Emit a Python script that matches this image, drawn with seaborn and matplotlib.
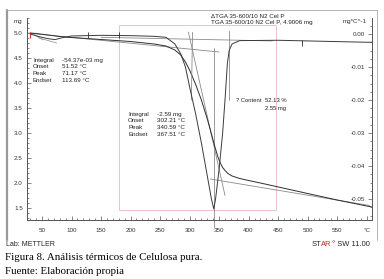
import numpy as np
import pandas as pd
import matplotlib
matplotlib.use("Agg")
import matplotlib.pyplot as plt
import seaborn as sns
from matplotlib.patches import Rectangle
from matplotlib.lines import Line2D

# ---- data ----
temp_tga = [30, 40, 60, 80, 100, 150, 200, 240, 260, 275, 285, 293, 300, 310, 320, 330,
            337, 343, 348, 352, 356, 360, 365, 372, 385, 400, 420, 500, 550, 600, 609]
mass_tga = [5.00, 4.99, 4.96, 4.93, 4.91, 4.87, 4.83, 4.78, 4.74, 4.66, 4.56, 4.42, 4.26,
            3.98, 3.66, 3.28, 2.98, 2.72, 2.52, 2.40, 2.31, 2.25, 2.19, 2.14, 2.09, 2.05,
            2.00, 1.79, 1.66, 1.54, 1.52]

temp_dtg = [30, 45, 60, 72, 85, 100, 150, 200, 240, 260, 275, 285, 293, 300, 310, 320, 330,
            337, 341, 344, 350, 356, 360, 364, 367, 372, 385, 450, 500, 550, 600, 609]
rate_dtg = [0.0, -0.0008, -0.0014, -0.0017, -0.0011, -0.0006, -0.0004, -0.0005, -0.0007,
            -0.0010, -0.0030, -0.0060, -0.0100, -0.0160, -0.0240, -0.0330, -0.0430,
            -0.0500, -0.0530, -0.0500, -0.0410, -0.0300, -0.0200, -0.0090, -0.0050,
            -0.0030, -0.0020, -0.0019, -0.0021, -0.0023, -0.0025, -0.0025]

x_ticks = [50, 100, 150, 200, 250, 300, 350, 400, 450, 500, 550, 600]
x_labels = ["50", "100", "150", "200", "250", "300", "350", "400", "450", "500", "550", "°C"]
mass_ticks = [1.5, 2.0, 2.5, 3.0, 3.5, 4.0, 4.5, 5.0]
rate_ticks = [0.00, -0.01, -0.02, -0.03, -0.04, -0.05]

block1 = [("Integral", "-54.37e-03 mg"), ("Onset", "51.52 °C"),
          ("Peak", "71.17 °C"), ("Endset", "113.69 °C")]
block2 = [("Integral", "-2.59 mg"), ("Onset", "302.21 °C"),
          ("Peak", "340.59 °C"), ("Endset", "367.51 °C")]

sns.set_style("ticks")
plt.rcParams['font.family'] = ['Liberation Sans', 'DejaVu Sans']

W, H = 384, 279
fig = plt.figure(figsize=(W / 100, H / 100), dpi=100)
ax = fig.add_axes([27 / W, 1 - 220 / H, (372 - 27) / W, (220 - 18) / H])
ax2 = ax.twinx()

tga = pd.DataFrame({"T": temp_tga, "m": mass_tga})
dtg = pd.DataFrame({"T": temp_dtg, "r": rate_dtg})

grey = "#8a8a8a"
ink = "#2e2e2e"

# tangent / evaluation lines
ax.plot([25, 350], [5.00, 4.62], color=grey, lw=0.6)
ax.plot([335, 605], [2.08, 1.55], color=grey, lw=0.6)
ax.plot([298, 360], [5.02, 1.75], color=grey, lw=0.6)
ax.plot([341, 341], [4.70, 1.12], color=grey, lw=0.6, clip_on=False)
ax.plot([36, 52], [4.97, 4.86], color=grey, lw=0.5)
ax.plot([45, 75], [4.90, 4.80], color=grey, lw=0.5)
ax2.plot([150, 440], [-0.0010, -0.0021], color=grey, lw=0.6)
ax2.plot([367, 367], [0.0010, -0.0200], color=grey, lw=0.6)
ax2.plot([305, 303], [0.0005, -0.0200], color=grey, lw=0.6)

sns.lineplot(data=tga, x="T", y="m", ax=ax, color=ink, lw=0.7, sort=False)
sns.lineplot(data=dtg, x="T", y="r", ax=ax2, color="#3a3a3a", lw=0.7, sort=False)

# evaluation markers
ax2.plot([128, 180.5], [-0.0004, -0.0004], ls="none", marker="|", ms=4, color=ink, mew=0.6)
ax2.plot([490], [-0.0026], ls="none", marker="|", ms=4, color=ink, mew=0.6)
ax.plot([30], [4.96], ls="none", marker="|", ms=5, color="#e03030", mew=0.8)

# pink evaluation window
ax.add_patch(Rectangle((180.5, 1.46), 446 - 180.5, 5.16 - 1.46, fill=False,
                       edgecolor="#e6b8cc", lw=0.6))

ax.set_xlim(24.6, 609)
ax.set_ylim(1.26, 5.30)
ax2.set_ylim(-0.05636, 0.00485)

ax.set_xticks(x_ticks)
ax.set_xticklabels(x_labels)
ax.set_xticks(np.arange(30, 610, 10), minor=True)
ax.set_yticks(mass_ticks)
ax.set_yticklabels([f"{v:.1f}" for v in mass_ticks])
ax.set_yticks(np.arange(1.3, 5.31, 0.1), minor=True)
ax2.set_yticks(rate_ticks)
ax2.set_yticklabels([f"{v:.2f}" for v in rate_ticks])
ax2.set_yticks(np.arange(-0.055, 0.004, 0.0025), minor=True)
ax.set_xlabel("")
ax.set_ylabel("")
ax2.set_ylabel("")

for a in (ax, ax2):
    a.tick_params(which="both", direction="in", colors="#555555", labelcolor="#333333",
                  labelsize=4.5, width=0.5)
    a.tick_params(which="major", length=3)
    a.tick_params(which="minor", length=1.5)
    a.spines["top"].set_visible(False)
    for s in ("left", "right", "bottom"):
        a.spines[s].set_color("#555555")
        a.spines[s].set_linewidth(0.6)
ax.tick_params(axis="y", pad=3)
ax.tick_params(axis="x", pad=6)
ax2.tick_params(axis="y", pad=-5)
for lab in ax2.get_yticklabels():
    lab.set_horizontalalignment("right")

# axis unit labels
ax.text(-0.015, 0.985, "mg", transform=ax.transAxes, ha="right", va="center",
        fontsize=4.5, color="#333333")
ax2.text(0.985, 0.985, "mg*C^-1", transform=ax.transAxes, ha="right", va="center",
         fontsize=4.5, color="#333333")

# curve legends
ax.text(336, 5.33, "ΔTGA 35-600/10 N2 Cel P", fontsize=4.5, color="#222222",
        va="center", ha="left", clip_on=False)
ax.text(336, 5.21, "TGA 35-600/10 N2 Cel P, 4.9006 mg", fontsize=4.5, color="#222222",
        va="center", ha="left")

# evaluation text blocks
fs = 4.5
for i, (k, v) in enumerate(block1):
    y = 4.46 - i * 0.135
    ax.text(34.7, y, k, fontsize=fs, va="center", color="#222222")
    ax.text(84, y, v, fontsize=fs, va="center", color="#222222")
for i, (k, v) in enumerate(block2):
    y = 3.38 - i * 0.135
    ax.text(195.8, y, k, fontsize=fs, va="center", color="#222222")
    ax.text(245, y, v, fontsize=fs, va="center", color="#222222")
ax.text(379, 3.66, "? Content", fontsize=4.2, va="center", color="#222222")
ax.text(427, 3.66, "52.13 %", fontsize=4.2, va="center", color="#222222")
ax.text(427, 3.50, "2.55 mg", fontsize=4.2, va="center", color="#222222")

# outer frame
fig.add_artist(Line2D([6.5 / W, 6.5 / W], [1 - 10 / H, 1 - 240 / H], color="#999999", lw=1.6))
fig.add_artist(Line2D([6 / W, 377 / W], [1 - 10 / H, 1 - 10 / H], color="#aaaaaa", lw=0.6))
fig.add_artist(Line2D([377 / W, 377 / W], [1 - 10 / H, 1 - 240 / H], color="#aaaaaa", lw=0.6))

fig.text(6 / W, 1 - 245 / H, "Lab: METTLER", fontsize=5, color="#222222", va="center")
fig.text(312 / W, 1 - 245 / H, "ST", fontsize=5.4, color="#222222", va="center")
fig.text(320.5 / W, 1 - 245 / H, "AR", fontsize=5.4, color="#d02020", va="center")
fig.text(332 / W, 1 - 245 / H, "° SW 11.00", fontsize=5.4, color="#222222", va="center")

fig.text(5 / W, 1 - 258 / H, "Figura 8. Análisis térmicos de Celulosa pura.",
         family="Liberation Serif", fontsize=7.8, color="black", va="center")
fig.text(5 / W, 1 - 271 / H, "Fuente: Elaboración propia",
         family="Liberation Serif", fontsize=7.8, color="black", va="center")

fig.savefig("out.png", dpi=100, facecolor="white")
